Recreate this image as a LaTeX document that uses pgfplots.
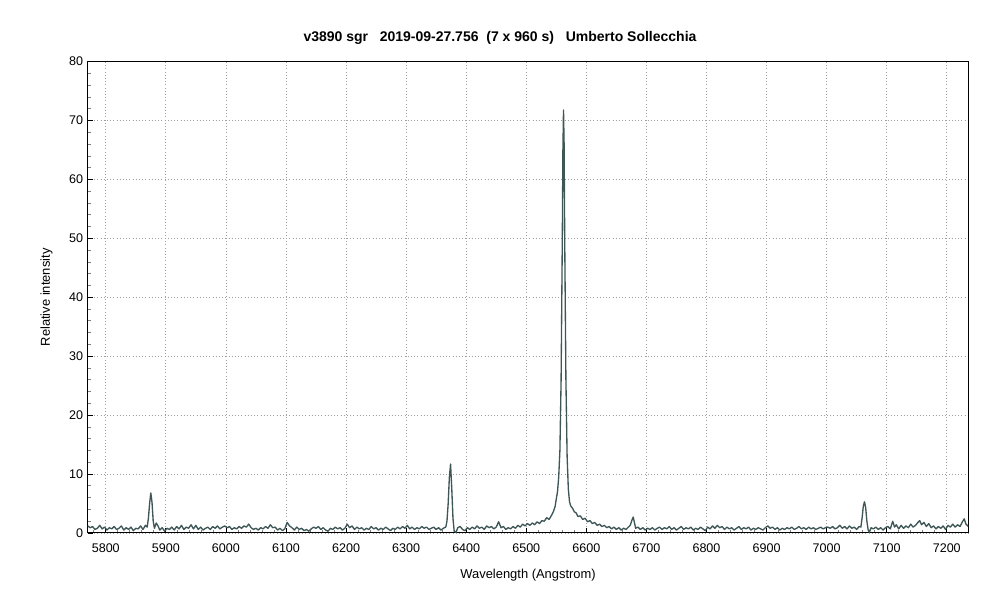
\documentclass[border=0pt]{standalone}
\usepackage{fontspec}
\setmainfont{Liberation Sans}
\usepackage{pgfplots}
\pgfplotsset{compat=1.18}
\usepackage{pgfplotstable}
\definecolor{specline}{HTML}{3E5656}
\definecolor{gridgray}{HTML}{A0A0A0}

% spectrum: wavelength (Angstrom), relative intensity
\pgfplotstableread{
x y
5770 1.2
5774 0.9
5778 1.1
5782 0.6
5786 0.8
5790 1.3
5794 0.7
5798 1.0
5802 0.5
5806 0.9
5810 0.7
5814 1.1
5818 0.6
5822 0.8
5826 1.2
5830 0.5
5834 0.9
5838 0.6
5842 1.0
5846 0.4
5850 0.8
5854 0.7
5858 1.2
5862 0.6
5866 1.3
5869 1.0
5871 2.5
5873 5.0
5875 6.8
5877 5.2
5879 2.0
5881 0.8
5884 1.7
5887 1.2
5890 0.5
5894 0.9
5898 0.3
5902 0.8
5906 0.6
5910 1.0
5914 0.5
5918 1.1
5922 0.7
5926 1.3
5930 0.6
5934 1.0
5938 0.8
5942 1.4
5946 0.7
5950 1.3
5954 0.6
5958 1.0
5962 0.5
5966 0.8
5970 1.0
5974 0.6
5978 1.1
5982 0.8
5986 1.2
5990 0.7
5994 1.0
5998 1.2
6002 0.9
6006 1.1
6010 0.6
6014 0.9
6018 0.7
6022 1.1
6026 0.8
6030 1.2
6034 1.0
6038 1.5
6042 0.9
6046 0.6
6050 0.8
6054 0.5
6058 0.9
6062 0.7
6066 1.1
6070 0.8
6074 1.4
6078 0.9
6082 1.0
6086 0.5
6090 0.8
6094 0.4
6098 0.7
6102 1.8
6106 1.2
6110 0.9
6114 0.5
6118 1.0
6122 0.6
6126 0.8
6130 0.4
6134 0.6
6138 0.3
6142 0.7
6146 1.0
6150 0.8
6154 1.1
6158 0.6
6162 0.9
6166 0.5
6170 0.3
6174 0.8
6178 0.6
6182 1.0
6186 0.7
6190 0.9
6194 0.5
6198 0.8
6202 1.5
6206 0.9
6210 1.2
6214 0.6
6218 1.0
6222 0.7
6226 0.9
6230 0.5
6234 0.8
6238 0.6
6242 1.1
6246 0.7
6250 0.9
6254 0.5
6258 0.8
6262 0.6
6266 1.0
6270 0.7
6274 0.4
6278 0.8
6282 0.6
6286 1.0
6290 0.7
6294 1.1
6298 0.8
6302 1.3
6306 0.7
6310 1.0
6314 0.6
6318 0.9
6322 0.7
6326 1.1
6330 0.8
6334 1.0
6338 0.6
6342 0.8
6346 1.0
6350 0.6
6354 0.9
6358 0.5
6362 0.8
6366 1.0
6368 2.0
6370 5.0
6372 9.5
6374 11.7
6376 7.5
6378 2.5
6380 0.3
6383 0.1
6386 0.9
6390 1.1
6394 0.6
6398 0.4
6402 0.9
6406 0.6
6410 1.0
6414 0.7
6418 1.2
6422 0.8
6426 1.0
6430 0.6
6434 1.2
6438 0.9
6442 1.1
6446 0.7
6450 1.0
6454 1.9
6458 0.9
6462 1.1
6466 0.6
6470 0.9
6474 0.7
6478 1.1
6482 0.8
6486 1.3
6490 1.0
6494 1.5
6498 1.2
6502 1.6
6506 1.3
6510 1.7
6514 1.4
6518 1.9
6522 1.6
6526 2.1
6530 2.0
6534 2.6
6538 2.3
6542 3.0
6545 3.6
6548 4.5
6550 5.8
6552 7.0
6554 9.5
6556 14
6558 26
6560 50
6561 65
6562 71.8
6563 66
6564 50
6566 26
6568 13
6570 7.5
6572 5.3
6574 4.6
6577 4.2
6580 3.6
6583 3.4
6586 2.8
6590 2.9
6594 2.3
6598 2.5
6602 1.9
6606 2.1
6610 1.6
6614 1.8
6618 1.3
6622 1.5
6626 1.1
6630 1.3
6634 0.9
6638 1.1
6642 0.7
6646 1.0
6650 0.6
6654 0.9
6658 0.5
6662 0.8
6666 0.6
6670 1.0
6673 1.3
6676 2.2
6678 2.7
6680 1.8
6682 0.8
6686 1.0
6690 0.6
6694 0.9
6698 0.5
6702 0.8
6706 0.6
6710 0.9
6714 0.5
6718 0.8
6722 1.0
6726 0.6
6730 0.9
6734 0.7
6738 1.1
6742 0.6
6746 0.9
6750 0.5
6754 0.8
6758 1.1
6762 0.6
6766 0.9
6770 0.7
6774 1.0
6778 0.5
6782 0.8
6786 0.6
6790 1.0
6794 0.7
6798 0.4
6802 1.0
6806 0.7
6810 1.2
6814 0.8
6818 1.3
6822 0.9
6826 1.1
6830 0.6
6834 1.0
6838 0.7
6842 0.9
6846 0.5
6850 0.8
6854 1.1
6858 0.6
6862 0.9
6866 0.7
6870 1.0
6874 0.5
6878 0.8
6882 0.6
6886 0.9
6890 0.7
6894 0.5
6898 0.9
6902 1.2
6906 0.8
6910 1.0
6914 0.6
6918 0.9
6922 0.5
6926 0.8
6930 0.6
6934 0.9
6938 0.7
6942 1.0
6946 0.6
6950 0.8
6954 1.1
6958 0.7
6962 0.9
6966 0.6
6970 1.0
6974 0.7
6978 0.9
6982 0.6
6986 0.8
6990 1.0
6994 0.7
6998 0.9
7002 1.0
7006 0.8
7010 1.1
7014 0.7
7018 0.9
7022 1.3
7026 0.8
7030 1.1
7034 0.7
7038 1.2
7042 0.8
7046 1.0
7050 0.6
7054 1.1
7057 1.0
7059 2.5
7061 4.5
7063 5.3
7065 4.3
7067 2.0
7069 0.6
7071 0.1
7074 0.9
7078 0.7
7082 1.0
7086 0.6
7090 0.9
7094 0.5
7098 0.9
7102 1.1
7106 0.7
7110 2.0
7113 1.0
7116 1.4
7120 0.7
7124 1.3
7128 0.8
7132 1.2
7136 0.9
7140 1.5
7144 1.0
7148 1.3
7152 1.8
7155 2.1
7158 1.4
7162 1.8
7166 1.1
7170 1.6
7174 0.9
7178 1.2
7182 0.7
7186 1.1
7190 0.8
7194 1.2
7198 0.6
7202 1.3
7206 1.0
7210 1.5
7214 1.0
7218 1.4
7222 1.1
7226 1.9
7229 2.4
7232 1.5
7236 1.1
}\spectrum

\begin{document}
\begin{tikzpicture}
\begin{axis}[
    name=main,
    at={(0,0)}, anchor=south west,
    scale only axis,
    width=660.5pt, height=353.5pt,
    xmin=5770, xmax=7236,
    ymin=0, ymax=80,
    xtick distance=100, ytick distance=10,
    minor tick num=4,
    tick align=inside,
    tick pos=left,
    major tick length=3.75pt,
    minor tick length=2.25pt,
    tick style={black, line width=0.6pt},
    minor tick style={gray, line width=0.6pt},
    axis line style={black, line width=0.75pt},
    grid=major,
    major grid style={gridgray, dotted, line width=0.6pt},
    /pgf/number format/1000 sep={},
    /pgf/number format/assume math mode=true,
    ticklabel style={font=\fontsize{9.4}{10}\selectfont},
    xticklabel style={yshift=-4.5pt},
    xlabel={Wavelength (Angstrom)},
    ylabel={Relative intensity},
    label style={font=\fontsize{9.7}{11}\selectfont},
    xlabel style={yshift=-5.5pt},
    ylabel style={yshift=5.5pt},
]
\addplot[specline, line width=1pt, line join=round] table[x=x, y=y] {\spectrum};
\end{axis}
\node[font=\fontsize{10.5}{12}\selectfont\bfseries] at (309.2pt,371.25pt)
    {v3890 sgr\ \ \ 2019-09-27.756\ \ (7 x 960 s)\ \ \ Umberto Sollecchia};
\pgfresetboundingbox
\path (-65.8pt,-54.75pt) rectangle (684.2pt,399.75pt);
\end{tikzpicture}
\end{document}
